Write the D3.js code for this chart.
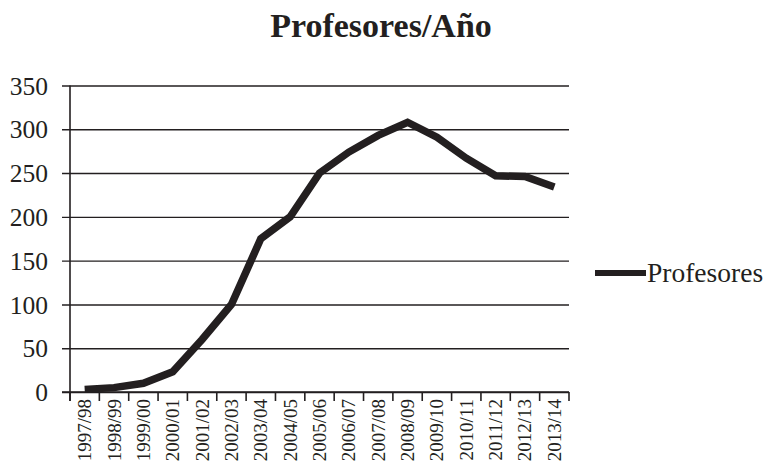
<!DOCTYPE html>
<html>
<head>
<meta charset="utf-8">
<script src="https://cdn.jsdelivr.net/npm/d3@7"></script>
<style>
  html, body { margin: 0; padding: 0; background: #fff; }
  svg { display: block; }
  text { font-family: "Liberation Serif", "DejaVu Serif", serif; fill: #231f20; }
</style>
</head>
<body>
<svg id="chart" width="766" height="467"></svg>
<script>
// Academic years on the horizontal axis
const years = ["1997/98", "1998/99", "1999/00", "2000/01", "2001/02", "2002/03",
  "2003/04", "2004/05", "2005/06", "2006/07", "2007/08", "2008/09", "2009/10",
  "2010/11", "2011/12", "2012/13", "2013/14"];
// Number of teachers per year
const profesores = [3, 5, 10, 23, 60, 100, 175, 200, 250, 274, 293, 308, 291, 267, 247, 246, 234];
const yTicks = [0, 50, 100, 150, 200, 250, 300, 350];
const seriesName = "Profesores";
const title = "Profesores/Año";

const svg = d3.select("#chart");
const plotLeft = 70, plotRight = 569, plotTop = 85.5, plotBottom = 392;
const ink = "#231f20";

const x = d3.scaleBand().domain(years).range([plotLeft, plotRight]).padding(0);
const y = d3.scaleLinear().domain([0, 350]).range([plotBottom, plotTop]);

// Horizontal gridlines with outward ticks on the left
const yAxis = d3.axisLeft(y).tickValues(yTicks).tickSize(-(plotRight - plotLeft)).tickSizeOuter(0).tickPadding(22);
const gy = svg.append("g").attr("transform", `translate(${plotLeft},0)`).call(yAxis);
gy.select(".domain").remove();
gy.selectAll(".tick line")
  .attr("x1", -8)
  .attr("stroke", ink).attr("stroke-width", 1.4);
gy.selectAll(".tick text")
  .attr("font-size", 25.5).attr("font-family", "Liberation Serif, serif")
  .attr("fill", ink).attr("dy", "0.34em");

// Vertical axis line
svg.append("line")
  .attr("x1", plotLeft).attr("x2", plotLeft)
  .attr("y1", plotTop).attr("y2", plotBottom + 9)
  .attr("stroke", ink).attr("stroke-width", 1.6);

// Category axis: ticks on band boundaries, labels rotated
const gx = svg.append("g").attr("transform", `translate(0,${plotBottom})`);
gx.append("line").attr("x1", plotLeft - 8).attr("x2", plotRight).attr("y1", 0).attr("y2", 0)
  .attr("stroke", ink).attr("stroke-width", 1.6);
const bounds = years.map(d => x(d)).concat([x(years[years.length - 1]) + x.bandwidth()]);
gx.selectAll("line.tk").data(bounds).join("line").attr("class", "tk")
  .attr("x1", d => d).attr("x2", d => d).attr("y1", 0).attr("y2", 9)
  .attr("stroke", ink).attr("stroke-width", 1.6);
gx.selectAll("text.lbl").data(years).join("text").attr("class", "lbl")
  .attr("transform", d => `translate(${x(d) + x.bandwidth() / 2 + 6.5},7) rotate(-90)`)
  .attr("text-anchor", "end")
  .attr("font-size", 19)
  .text(d => d);

// Series line
const line = d3.line()
  .x((d, i) => x(years[i]) + x.bandwidth() / 2)
  .y(d => y(d));
svg.append("path")
  .datum(profesores)
  .attr("d", line)
  .attr("fill", "none")
  .attr("stroke", ink)
  .attr("stroke-width", 7.5)
  .attr("stroke-linejoin", "miter");

// Title
svg.append("text")
  .attr("x", 381).attr("y", 37)
  .attr("text-anchor", "middle")
  .attr("font-size", 34).attr("font-weight", "bold")
  .text(title);

// Legend
const lg = svg.append("g");
lg.append("line").attr("x1", 595).attr("x2", 646).attr("y1", 273).attr("y2", 273)
  .attr("stroke", ink).attr("stroke-width", 6);
lg.append("text").attr("x", 647).attr("y", 282)
  .attr("font-size", 27.5).text(seriesName);
</script>
</body>
</html>
